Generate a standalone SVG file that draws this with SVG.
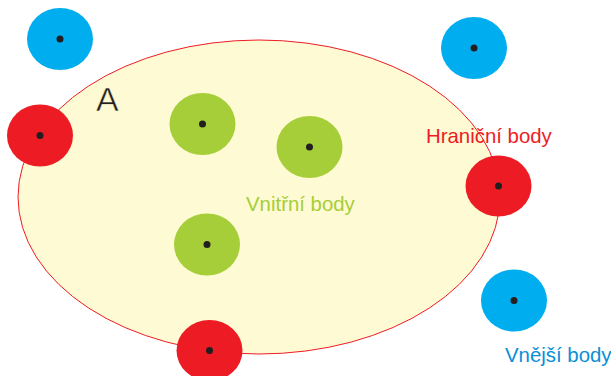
<svg xmlns="http://www.w3.org/2000/svg" width="611" height="376" viewBox="0 0 611 376">
<style>
.pt{stroke:none}
.red{fill:#ed1c24}
.blue{fill:#00aeef}
.green{fill:#a6ce39}
.dot{fill:#231f20}
.lbl{font-family:"Liberation Sans",Arial,sans-serif;font-size:20.4px}
</style>
<rect width="611" height="376" fill="#ffffff"/>
<g id="setA">
<ellipse cx="259" cy="197" rx="241" ry="157" fill="#fefad4" stroke="#ed1c24" stroke-width="1"/>
<text x="96" y="110.5" font-family="Liberation Sans, Arial, sans-serif" font-size="34" fill="#231f20" stroke="#fefad4" stroke-width="0.6">A</text>
</g>
<g id="outer1"><ellipse class="pt blue" cx="60" cy="39" rx="33" ry="31"/><circle class="dot" cx="60" cy="39" r="3.5"/></g>
<g id="outer2"><ellipse class="pt blue" cx="474" cy="48" rx="33" ry="31"/><circle class="dot" cx="474" cy="48" r="3.5"/></g>
<g id="outer3"><ellipse class="pt blue" cx="514" cy="300.5" rx="33" ry="31"/><circle class="dot" cx="514" cy="300.5" r="3.5"/></g>
<g id="boundary1"><ellipse class="pt red" cx="40" cy="135.5" rx="33" ry="31"/><circle class="dot" cx="40" cy="135.5" r="3.5"/></g>
<g id="boundary2"><ellipse class="pt red" cx="498.5" cy="186" rx="33" ry="30.5"/><circle class="dot" cx="498.5" cy="186" r="3.5"/></g>
<g id="boundary3"><ellipse class="pt red" cx="209.5" cy="350.5" rx="33" ry="30.5"/><circle class="dot" cx="209.5" cy="350.5" r="3.5"/></g>
<g id="inner1"><ellipse class="pt green" cx="202.5" cy="124" rx="33" ry="31"/><circle class="dot" cx="202.5" cy="124" r="3.5"/></g>
<g id="inner2"><ellipse class="pt green" cx="309.5" cy="147" rx="33" ry="31"/><circle class="dot" cx="309.5" cy="147" r="3.5"/></g>
<g id="inner3"><ellipse class="pt green" cx="207" cy="244.5" rx="33" ry="31"/><circle class="dot" cx="207" cy="244.5" r="3.5"/></g>
<g id="labels">
<text class="lbl" x="246" y="210.5" fill="#a6ce39">Vnitřní body</text>
<text class="lbl" x="426" y="143" fill="#ed1c24">Hraniční body</text>
<text class="lbl" x="505" y="362" fill="#0a8fd6">Vnější body</text>
</g>
<g id="connectors"></g>
</svg>
